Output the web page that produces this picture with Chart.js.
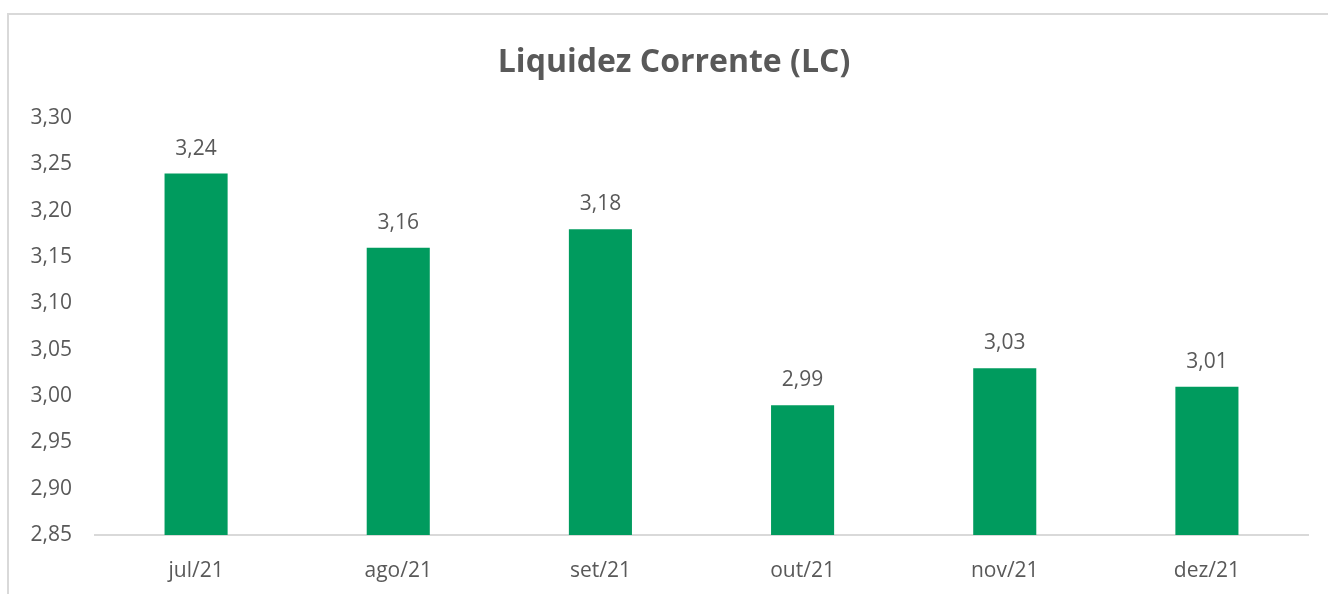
<!DOCTYPE html>
<html>
<head>
<meta charset="utf-8">
<script src="https://cdn.jsdelivr.net/npm/chart.js@4/dist/chart.umd.min.js"></script>
<style>
  html, body { margin: 0; padding: 0; background: #ffffff; }
  #wrap { position: relative; width: 1328px; height: 594px; overflow: hidden; }
  #frame { position: absolute; left: 7px; top: 13px; width: 1400px; height: 700px; border: 2px solid #d9d9d9; box-sizing: border-box; }
  canvas { position: absolute; left: 0; top: 0; }
</style>
</head>
<body>
<div id="wrap">
  <div id="frame"></div>
  <canvas id="c" width="1328" height="594"></canvas>
</div>
<script>
const chartTitle = 'Liquidez Corrente (LC)';
const categories = ['jul/21', 'ago/21', 'set/21', 'out/21', 'nov/21', 'dez/21'];
const lcValues = [3.24, 3.16, 3.18, 2.99, 3.03, 3.01];
const yMin = 2.85;
const yMax = 3.30;
const yStep = 0.05;

const FONT = '"Open Sans", "Liberation Sans", sans-serif';
const TEXT = '#595959';
const fmt = v => Number(v).toFixed(2).replace('.', ',');

const dataLabels = {
  id: 'dataLabels',
  afterDatasetsDraw(chart) {
    const ctx = chart.ctx;
    const meta = chart.getDatasetMeta(0);
    ctx.save();
    ctx.fillStyle = TEXT;
    ctx.font = '21px ' + FONT;
    ctx.textAlign = 'center';
    ctx.textBaseline = 'alphabetic';
    meta.data.forEach((bar, i) => {
      ctx.fillText(fmt(chart.data.datasets[0].data[i]), bar.x, bar.y - 19);
    });
    ctx.restore();
  }
};

const titlePlugin = {
  id: 'centeredTitle',
  afterDraw(chart) {
    const ctx = chart.ctx;
    ctx.save();
    ctx.fillStyle = TEXT;
    ctx.font = 'bold 32px ' + FONT;
    ctx.textAlign = 'center';
    ctx.textBaseline = 'middle';
    ctx.fillText(chartTitle, (40 + chart.chartArea.right) / 2, 63);
    ctx.restore();
  }
};

new Chart(document.getElementById('c'), {
  type: 'bar',
  data: {
    labels: categories,
    datasets: [{
      data: lcValues,
      backgroundColor: '#009B5E',
      borderWidth: 0,
      categoryPercentage: 1,
      barPercentage: 0.312
    }]
  },
  options: {
    responsive: false,
    animation: false,
    devicePixelRatio: 1,
    layout: { padding: { top: 118, left: 0, right: 20, bottom: 0 } },
    plugins: {
      legend: { display: false },
      tooltip: { enabled: false },
      title: { display: false }
    },
    scales: {
      x: {
        grid: { display: false, drawTicks: false },
        border: { display: true, color: '#d9d9d9', width: 2 },
        ticks: { color: TEXT, font: { family: FONT, size: 21 }, padding: 23 },
        afterFit(scale) { scale.height = 59; }
      },
      y: {
        min: yMin,
        max: yMax,
        grid: { display: false, drawTicks: false },
        border: { display: false },
        ticks: {
          stepSize: yStep,
          color: TEXT,
          font: { family: FONT, size: 21 },
          padding: 23,
          callback: v => fmt(v)
        },
        afterFit(scale) { scale.width = 95; }
      }
    }
  },
  plugins: [dataLabels, titlePlugin]
});
</script>
</body>
</html>
